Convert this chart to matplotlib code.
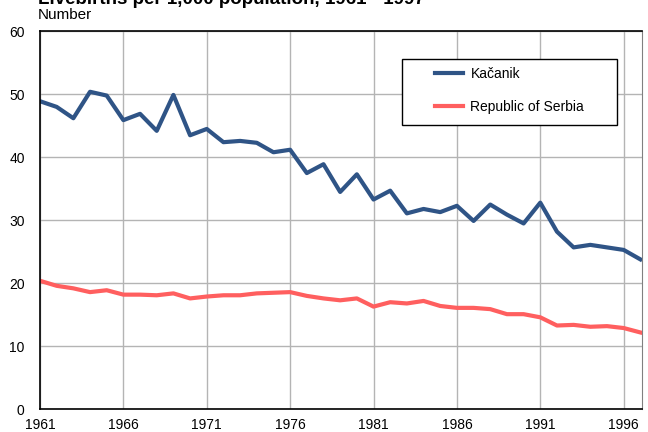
import matplotlib
matplotlib.use("Agg")
import matplotlib.pyplot as plt
from matplotlib.patches import Rectangle

plt.rcParams['font.family'] = ['Liberation Sans', 'DejaVu Sans']

years = list(range(1961, 1998))
kacanik = [48.9, 48.0, 46.2, 50.4, 49.8, 45.9, 46.9, 44.2, 49.9, 43.5,
           44.5, 42.4, 42.6, 42.3, 40.8, 41.2, 37.5, 38.9, 34.5, 37.3,
           33.3, 34.7, 31.1, 31.8, 31.3, 32.3, 29.9, 32.5, 30.9, 29.5,
           32.8, 28.2, 25.7, 26.1, 25.7, 25.3, 23.8]
serbia = [20.4, 19.6, 19.2, 18.6, 18.9, 18.2, 18.2, 18.1, 18.4, 17.6,
          17.9, 18.1, 18.1, 18.4, 18.5, 18.6, 18.0, 17.6, 17.3, 17.6,
          16.3, 17.0, 16.8, 17.2, 16.4, 16.1, 16.1, 15.9, 15.1, 15.1,
          14.6, 13.3, 13.4, 13.1, 13.2, 12.9, 12.2]
xticks = [1961, 1966, 1971, 1976, 1981, 1986, 1991, 1996]
yticks = [0, 10, 20, 30, 40, 50, 60]

W, H = 648, 432
fig = plt.figure(figsize=(6.48, 4.32), dpi=100)
ax = fig.add_axes([40 / W, (H - 409.3) / H, 602 / W, 378 / H])

ax.plot(years, kacanik, color='#2F5486', lw=3.0, label='Kačanik')
ax.plot(years, serbia, color='#FF5F5F', lw=3.0, label='Republic of Serbia')

ax.set_xlim(1961, 1997.1)
ax.set_ylim(0, 60)
ax.set_xticks(xticks)
ax.set_yticks(yticks)
ax.grid(True, color='#b4b4b4', lw=1.0)
ax.set_axisbelow(True)
ax.tick_params(length=0, labelsize=10, pad=6)
ax.tick_params(axis='y', pad=11)
for s in ['left', 'bottom', 'top']:
    ax.spines[s].set_color('black')
    ax.spines[s].set_linewidth(1.2)
ax.spines['right'].set_color('#808080')

# legend box (frame drawn separately to match the reference's wide box)
box = Rectangle((402 / W, (H - 125) / H), 215 / W, 66 / H, transform=fig.transFigure,
                facecolor='white', edgecolor='black', lw=1.0, zorder=5)
fig.patches.append(box)
leg = fig.legend(loc='upper left', bbox_to_anchor=(435 / W, (H - 67) / H), fontsize=10,
                 frameon=False, handlelength=2.0, labelspacing=1.35, borderpad=0,
                 borderaxespad=0, handletextpad=0.55)
leg.set_zorder(6)

fig.text(38 / W, (H - 4) / H, 'Livebirths per 1,000 population, 1961 - 1997',
         fontsize=13.5, fontweight='bold', va='baseline', ha='left')
fig.text(38 / W, (H - 15) / H, 'Number', fontsize=11, va='center', ha='left')

fig.savefig('out.png', dpi=100)
